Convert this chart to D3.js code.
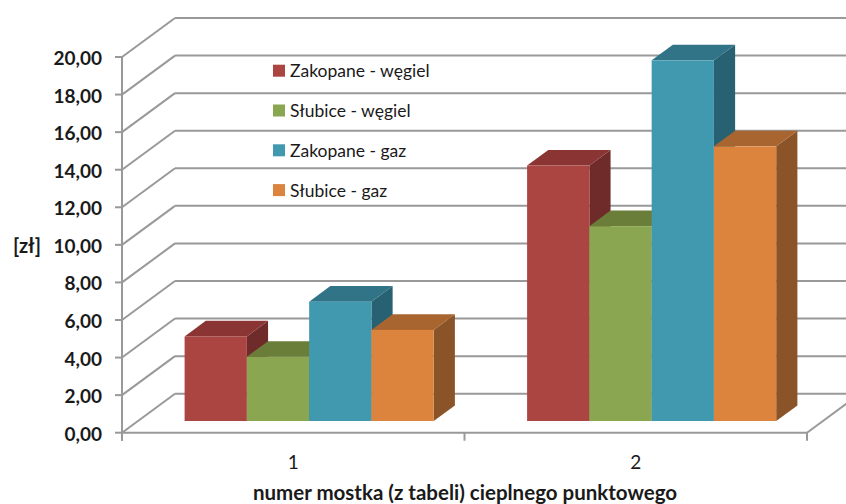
<!DOCTYPE html>
<html><head><meta charset="utf-8">
<script src="https://cdn.jsdelivr.net/npm/d3@7"></script>
<style>
html,body{margin:0;padding:0;background:#fff;}
svg{display:block;font-family:Lato, "Noto Sans", sans-serif;}
</style></head>
<body>
<svg id="chart" width="846" height="504"></svg>
<script>
const categories = ["1", "2"];
const seriesNames = ["Zakopane - węgiel", "Słubice - węgiel", "Zakopane - gaz", "Słubice - gaz"];
const zakopaneWegiel = [4.5, 13.6];
const slubiceWegiel = [3.42, 10.37];
const zakopaneGaz = [6.35, 19.2];
const slubiceGaz = [4.85, 14.62];
const yTicks = [0, 2, 4, 6, 8, 10, 12, 14, 16, 18, 20];
const yTitle = "[zł]";
const xTitle = "numer mostka (z tabeli) cieplnego punktowego";

const seriesValues = [zakopaneWegiel, slubiceWegiel, zakopaneGaz, slubiceGaz];
const faceColors = [
  {front:"#AB4542", top:"#8A3533", side:"#6F2B29"},
  {front:"#8BA650", top:"#6A7E3A", side:"#56692F"},
  {front:"#4199AF", top:"#317487", side:"#286172"},
  {front:"#DC843D", top:"#A8652F", side:"#8B5428"}
];

const svg = d3.select("#chart");
const depth = {dx: 53, dy: -39};
const barD0 = 0.3, barD1 = 0.7;

const x = d3.scaleBand().domain(categories).range([122, 807]).padding(0);
const xs = d3.scaleBand().domain(seriesNames).range([0, x.bandwidth()])
  .paddingInner(0).paddingOuter(0.75);
const y = d3.scaleLinear().domain([0, 20]).range([432.7, 57]);

const gridColor = "#999999";
const grid = svg.append("g").attr("stroke", gridColor).attr("stroke-width", 2).attr("fill", "none");

yTicks.forEach(t => {
  grid.append("line")
    .attr("x1", x.range()[0] + depth.dx).attr("x2", x.range()[1] + depth.dx)
    .attr("y1", y(t) + depth.dy).attr("y2", y(t) + depth.dy);
  grid.append("line")
    .attr("x1", x.range()[0]).attr("y1", y(t))
    .attr("x2", x.range()[0] + depth.dx).attr("y2", y(t) + depth.dy);
});
grid.append("line").attr("x1", x.range()[0]).attr("x2", x.range()[1]).attr("y1", y(0)).attr("y2", y(0));
grid.append("line").attr("x1", x.range()[1]).attr("y1", y(0))
  .attr("x2", x.range()[1] + depth.dx).attr("y2", y(0) + depth.dy);
grid.append("line").attr("x1", x.range()[0]).attr("x2", x.range()[0]).attr("y1", y(20)).attr("y2", y(0) + 8);
yTicks.forEach(t => {
  grid.append("line").attr("x1", x.range()[0] - 7).attr("x2", x.range()[0]).attr("y1", y(t)).attr("y2", y(t));
});
const bounds = categories.map(c => x(c)).concat([x.range()[1]]);
bounds.forEach(b => {
  grid.append("line").attr("x1", b).attr("x2", b).attr("y1", y(0)).attr("y2", y(0) + 8);
});

const bars = svg.append("g");
categories.forEach((c, ci) => {
  seriesNames.forEach((s, si) => {
    const v = seriesValues[si][ci];
    const col = faceColors[si];
    const fx0 = x(c) + xs(s) + depth.dx * barD0;
    const fx1 = fx0 + xs.bandwidth();
    const fyTop = y(v) + depth.dy * barD0;
    const fyBot = y(0) + depth.dy * barD0;
    const ddx = depth.dx * (barD1 - barD0), ddy = depth.dy * (barD1 - barD0);
    bars.append("path").attr("fill", col.side)
      .attr("d", `M${fx1},${fyTop}L${fx1+ddx},${fyTop+ddy}L${fx1+ddx},${fyBot+ddy}L${fx1},${fyBot}Z`);
    bars.append("path").attr("fill", col.top)
      .attr("d", `M${fx0},${fyTop}L${fx0+ddx},${fyTop+ddy}L${fx1+ddx},${fyTop+ddy}L${fx1},${fyTop}Z`);
    bars.append("rect").attr("fill", col.front)
      .attr("x", fx0).attr("y", fyTop).attr("width", fx1 - fx0).attr("height", fyBot - fyTop);
  });
});

const fmt = d3.format(".2f");
svg.append("g").selectAll("text").data(yTicks).join("text")
  .attr("x", 102).attr("y", d => y(d) + 8)
  .attr("text-anchor", "end").attr("font-weight", "bold").attr("font-size", 19).attr("fill", "#1a1a1a")
  .text(d => fmt(d).replace(".", ","));

svg.append("text").attr("x", 27).attr("y", 253).attr("text-anchor", "middle")
  .attr("font-weight", "bold").attr("font-size", 20).attr("fill", "#1a1a1a").text(yTitle);

svg.append("g").selectAll("text").data(categories).join("text")
  .attr("x", d => x(d) + x.bandwidth() / 2).attr("y", 468.5)
  .attr("text-anchor", "middle").attr("font-size", 19).attr("fill", "#1a1a1a")
  .text(d => d);

svg.append("text").attr("x", 465).attr("y", 500).attr("text-anchor", "middle")
  .attr("font-weight", "bold").attr("font-size", 20.5).attr("fill", "#1a1a1a").text(xTitle);

const legend = svg.append("g");
seriesNames.forEach((s, i) => {
  const cy = 70.7 + i * 39.8;
  legend.append("rect").attr("x", 273).attr("y", cy - 6).attr("width", 12).attr("height", 12)
    .attr("fill", faceColors[i].front);
  legend.append("text").attr("x", 290).attr("y", cy + 6.5).attr("font-size", 17.5).attr("fill", "#1a1a1a").text(s);
});
</script>
</body></html>
